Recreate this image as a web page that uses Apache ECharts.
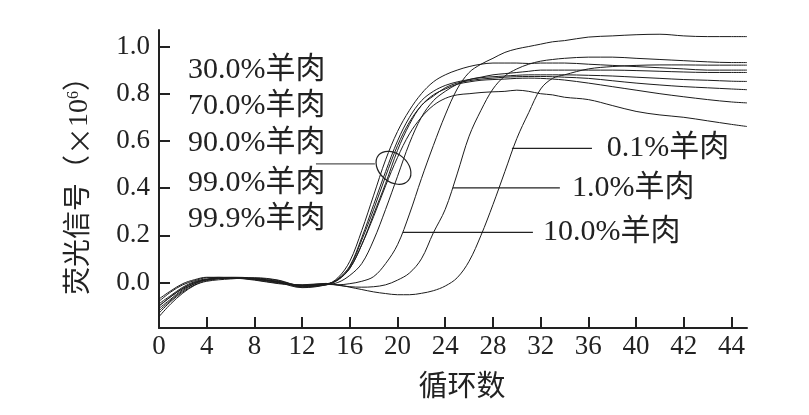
<!DOCTYPE html>
<html><head><meta charset="utf-8">
<script src="https://cdn.jsdelivr.net/npm/echarts@6/dist/echarts.min.js"></script>
<style>html,body{margin:0;padding:0;background:#fff}#c{width:809px;height:415px}</style>
</head><body><div id="c"></div>
<script>
// ---------- data ----------
const cycles = [0,1,2,3,4,6,8,10,12,14,
  15,16,17,18,19,20,21,22,23,24,25,26,27,28,29,30,31,32,33,34,
  36,38,40,42,44,46,48,49.3];

const tickValuesX = [0,4,8,12,16,20,24,28,32,36,40,44,48];
const tickLabelsX = ['0','4','8','12','16','20','24','28','32','36','40','42','44'];
const tickValuesY = [0,0.2,0.4,0.6,0.8,1.0];

const curveA = [-0.10,-0.06,-0.025,0.0,0.012,0.018,0.015,0.005,-0.012,-0.008,
  0.02,0.09,0.22,0.37,0.52,0.64,0.73,0.80,0.85,0.88,0.90,0.915,0.925,0.93,0.93,0.93,0.928,0.93,0.93,0.93,
  0.925,0.92,0.915,0.91,0.905,0.90,0.90,0.90];
const curveB = [-0.13,-0.08,-0.04,-0.01,0.008,0.018,0.018,0.008,-0.018,-0.01,
  0.0,0.03,0.08,0.18,0.31,0.45,0.59,0.70,0.77,0.81,0.84,0.86,0.87,0.88,0.885,0.89,0.895,0.9,0.9,0.9,
  0.9,0.9,0.898,0.895,0.892,0.89,0.89,0.89];
const curveC = [-0.08,-0.04,-0.01,0.008,0.02,0.022,0.018,0.0,-0.022,-0.01,
  0.015,0.07,0.19,0.33,0.47,0.60,0.70,0.77,0.81,0.835,0.85,0.86,0.868,0.872,0.875,0.878,0.88,0.88,0.88,0.88,
  0.878,0.875,0.87,0.865,0.86,0.857,0.853,0.852];
const curveD = [-0.145,-0.09,-0.045,-0.012,0.005,0.015,0.02,0.01,-0.015,-0.01,
  0.01,0.06,0.16,0.29,0.42,0.56,0.67,0.75,0.79,0.825,0.845,0.855,0.862,0.866,0.87,0.872,0.873,0.873,0.872,0.87,
  0.865,0.855,0.845,0.837,0.83,0.825,0.82,0.817];
const curveE = [-0.11,-0.07,-0.03,-0.005,0.012,0.02,0.016,0.004,-0.02,-0.008,
  0.012,0.065,0.18,0.31,0.45,0.58,0.68,0.75,0.795,0.82,0.84,0.85,0.857,0.86,0.862,0.865,0.866,0.865,0.862,0.858,
  0.845,0.83,0.815,0.80,0.787,0.775,0.765,0.761];
const curveF = [-0.07,-0.035,-0.005,0.012,0.022,0.02,0.01,-0.005,-0.012,-0.006,
  0.012,0.06,0.16,0.28,0.41,0.53,0.63,0.70,0.75,0.78,0.795,0.80,0.805,0.808,0.81,0.815,0.81,0.80,0.795,0.785,
  0.775,0.75,0.725,0.71,0.70,0.685,0.67,0.661];
const lamb10 = [-0.12,-0.075,-0.035,-0.005,0.012,0.02,0.015,0.002,-0.015,-0.008,
  -0.01,-0.005,0.005,0.025,0.08,0.16,0.29,0.44,0.58,0.71,0.82,0.89,0.925,0.95,0.975,0.99,1.0,1.01,1.02,1.025,
  1.04,1.045,1.05,1.052,1.045,1.042,1.042,1.042];
const lamb1 = [-0.09,-0.055,-0.02,0.004,0.015,0.02,0.014,0.0,-0.012,-0.005,
  -0.012,-0.018,-0.02,-0.018,-0.01,0.01,0.04,0.10,0.21,0.31,0.46,0.62,0.73,0.82,0.875,0.905,0.925,0.938,0.945,0.95,
  0.955,0.955,0.95,0.945,0.94,0.935,0.932,0.932];
const lamb01 = [-0.1,-0.06,-0.025,0.0,0.012,0.02,0.012,-0.003,-0.01,-0.004,
  -0.01,-0.02,-0.03,-0.04,-0.047,-0.052,-0.052,-0.046,-0.035,-0.015,0.02,0.09,0.2,0.33,0.47,0.61,0.72,0.82,0.865,0.88,
  0.905,0.915,0.92,0.922,0.922,0.921,0.921,0.921];

const seriesNames = ['高含量1','高含量2','高含量3','高含量4','高含量5','高含量6','10.0%羊肉','1.0%羊肉','0.1%羊肉'];
const seriesValues = [curveA,curveB,curveC,curveD,curveE,curveF,lamb10,lamb1,lamb01];

const groupLabels = ['30.0%羊肉','70.0%羊肉','90.0%羊肉','99.0%羊肉','99.9%羊肉'];
const lowLabels = ['0.1%羊肉','1.0%羊肉','10.0%羊肉'];

// ---------- annotation placement (data coordinates) ----------
const groupLabelPos = [[2.43,0.898],[2.43,0.746],[2.43,0.592],[2.43,0.423],[2.43,0.270]];
const lowLabelPos = [[37.55,0.571],[34.62,0.401],[32.19,0.215]];
const leaderLines = [
  [[13.16,0.503],[18.1,0.503],'#555'],
  [[29.59,0.568],[36.3,0.568],'#222'],
  [[24.64,0.401],[33.61,0.401],'#222'],
  [[20.45,0.212],[31.35,0.212],'#222']
];
const ellipseCenter = [19.66,0.486];

// ---------- chart ----------
const FONT = "'Liberation Serif','Noto Sans CJK SC',serif";
const CJK = "'Noto Sans CJK SC',sans-serif";
const TXT = '#222';
const chart = echarts.init(document.getElementById('c'), null, {renderer:'canvas'});

const series = seriesValues.map((vals,i)=>({
  name: seriesNames[i], type:'line', showSymbol:false, smooth:0.35, silent:true,
  data: vals.map((v,j)=>[cycles[j], v]),
  lineStyle:{color:'#1c1c1c', width:1}
}));

chart.setOption({
  animation:false,
  backgroundColor:'#fff',
  grid:{left:159, top:30, width:588, height:298},
  xAxis:{
    type:'value', min:0, max:49.3,
    axisLine:{onZero:false, lineStyle:{color:TXT, width:2}},
    axisTick:{inside:true, length:11, lineStyle:{color:TXT, width:2}, customValues:tickValuesX},
    axisLabel:{customValues:tickValuesX, formatter:v=>tickLabelsX[Math.round(v/4)], fontSize:27, fontFamily:FONT, color:TXT, margin:5},
    splitLine:{show:false},
    name:'循环数', nameLocation:'middle', nameGap:46,
    nameTextStyle:{fontSize:29, fontFamily:FONT, color:TXT, padding:[0,0,0,18]}
  },
  yAxis:{
    type:'value', min:-0.193, max:1.07,
    axisLine:{onZero:false, lineStyle:{color:TXT, width:2}},
    axisTick:{inside:true, length:11, lineStyle:{color:TXT, width:2}, customValues:tickValuesY},
    axisLabel:{customValues:tickValuesY, formatter:v=>v.toFixed(1), fontSize:27, fontFamily:FONT, color:TXT, margin:9},
    splitLine:{show:false},
    name:'荧光信号（{x|×}10{sup|6}）', nameLocation:'middle', nameGap:65, nameRotate:90,
    nameTextStyle:{fontSize:28, fontFamily:FONT, color:TXT,
      rich:{
        x:{fontSize:28, fontFamily:CJK, color:TXT},
        sup:{fontSize:16, fontFamily:FONT, color:TXT, verticalAlign:'top', padding:[0,0,10,0]}
      }}
  },
  series: series
});

const toPx = p => chart.convertToPixel({gridIndex:0}, p);
const g = [];
leaderLines.forEach(l=>{
  const a = toPx(l[0]), b = toPx(l[1]);
  g.push({type:'line', silent:true, shape:{x1:a[0],y1:a[1],x2:b[0],y2:b[1]}, style:{stroke:l[2], lineWidth:1.3}});
});
const ec = toPx(ellipseCenter);
g.push({type:'ellipse', silent:true, x:ec[0], y:ec[1], rotation:-0.7,
  shape:{cx:0, cy:0, rx:19.5, ry:14}, style:{fill:'none', stroke:'#222', lineWidth:1.2}});
groupLabels.forEach((t,i)=>{
  const p = toPx(groupLabelPos[i]);
  g.push({type:'text', silent:true, x:p[0], y:p[1], style:{text:t, fontSize:30, fontFamily:FONT, fill:TXT, align:'left', verticalAlign:'middle'}});
});
lowLabels.forEach((t,i)=>{
  const p = toPx(lowLabelPos[i]);
  g.push({type:'text', silent:true, x:p[0], y:p[1], style:{text:t, fontSize:30, fontFamily:FONT, fill:TXT, align:'left', verticalAlign:'middle'}});
});
chart.setOption({graphic:g});
</script>
</body></html>
